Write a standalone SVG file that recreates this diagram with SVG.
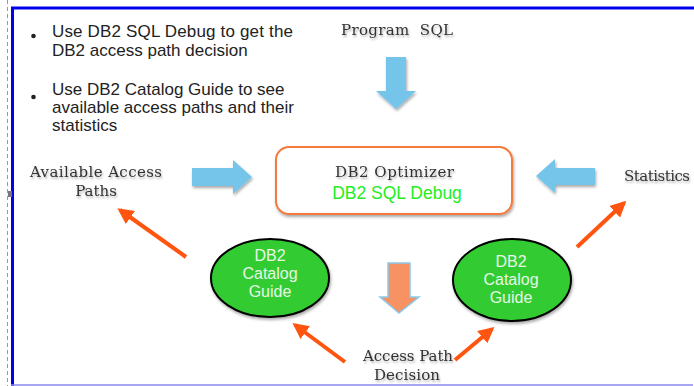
<svg xmlns="http://www.w3.org/2000/svg" width="694" height="386" viewBox="0 0 694 386">
<style>
.serif{font-family:"DejaVu Serif","Liberation Serif",serif;font-size:15px;fill:#333;text-anchor:middle}
.sans{font-family:"Liberation Sans",Arial,sans-serif}
.bul{font-size:17px;fill:#222}
.ell{fill:#33CC33;stroke:#000;stroke-width:2}
.etx{font-family:"Liberation Sans",Arial,sans-serif;font-size:16px;fill:#E6F7E6;text-anchor:middle}
.blue{fill:#74C4EA}
.oarr{stroke:#FF5510;stroke-width:4;fill:none;marker-end:url(#oh)}
</style>
<defs>
<filter id="sh" x="-20%" y="-20%" width="150%" height="150%">
<feGaussianBlur in="SourceAlpha" stdDeviation="1.5"/>
<feOffset dx="1" dy="2" result="b"/>
<feComponentTransfer><feFuncA type="linear" slope="0.35"/></feComponentTransfer>
<feMerge><feMergeNode/><feMergeNode in="SourceGraphic"/></feMerge>
</filter>
<filter id="tsh" x="-10%" y="-30%" width="120%" height="160%">
<feGaussianBlur in="SourceAlpha" stdDeviation="0.8"/>
<feOffset dx="1" dy="1.5"/>
<feComponentTransfer><feFuncA type="linear" slope="0.3"/></feComponentTransfer>
<feMerge><feMergeNode/><feMergeNode in="SourceGraphic"/></feMerge>
</filter>
<marker id="oh" viewBox="0 0 10 10" refX="8" refY="5" markerWidth="4" markerHeight="4" orient="auto" markerUnits="strokeWidth">
<path d="M0,0 L10,5 L0,10 z" fill="#FF5510"/>
</marker>
</defs>
<rect width="694" height="386" fill="#fff"/>
<!-- frame -->
<line x1="7.5" y1="0" x2="7.5" y2="386" stroke="#999" stroke-width="1" stroke-dasharray="4,3"/>
<line x1="12.5" y1="8" x2="12.5" y2="386" stroke="#0000EE" stroke-width="3"/>
<line x1="11" y1="8" x2="694" y2="8" stroke="#0000EE" stroke-width="3"/>
<line x1="11" y1="385" x2="693" y2="385" stroke="#8888EE" stroke-width="1.5"/>
<rect x="8" y="191" width="4" height="6" fill="#777"/>

<g id="bullets">
<circle cx="33.5" cy="36" r="2.3" fill="#222"/>
<text class="sans bul" x="52" y="37" textLength="241">Use DB2 SQL Debug to get the</text>
<text class="sans bul" x="52" y="56">DB2 access path decision</text>
<circle cx="33.5" cy="97" r="2.3" fill="#222"/>
<text class="sans bul" x="52" y="95">Use DB2 Catalog Guide to see</text>
<text class="sans bul" x="52" y="113">available access paths and their</text>
<text class="sans bul" x="52" y="131">statistics</text>
</g>

<g id="program-sql">
<text class="serif" x="397" y="35" filter="url(#tsh)" xml:space="preserve" textLength="112">Program  SQL</text>
</g>

<g id="optimizer">
<rect x="276" y="147" width="236" height="67" rx="13" fill="#fff" stroke="#F47A3C" stroke-width="2" filter="url(#sh)"/>
<text class="serif" x="394.5" y="177" filter="url(#tsh)" textLength="119">DB2 Optimizer</text>
<text class="sans" x="397" y="199" font-size="17.5" fill="#22EE22" text-anchor="middle">DB2 SQL Debug</text>
</g>

<g id="available-access-paths">
<text class="serif" x="96" y="177" filter="url(#tsh)" textLength="132">Available Access</text>
<text class="serif" x="96" y="196" filter="url(#tsh)">Paths</text>
</g>

<g id="statistics">
<text class="serif" x="657" y="181" filter="url(#tsh)" textLength="66">Statistics</text>
</g>

<g id="access-path-decision">
<text class="serif" x="408" y="361" filter="url(#tsh)" textLength="90">Access Path</text>
<text class="serif" x="407" y="380" filter="url(#tsh)" textLength="66">Decision</text>
</g>

<g id="catalog-left">
<ellipse class="ell" cx="270" cy="278" rx="59" ry="39" filter="url(#sh)"/>
<text class="etx" x="270" y="261">DB2</text>
<text class="etx" x="270" y="279">Catalog</text>
<text class="etx" x="270" y="297">Guide</text>
</g>

<g id="catalog-right">
<ellipse class="ell" cx="512" cy="280" rx="59" ry="41" filter="url(#sh)"/>
<text class="etx" x="511" y="267">DB2</text>
<text class="etx" x="511" y="285">Catalog</text>
<text class="etx" x="511" y="303">Guide</text>
</g>

<g id="connectors">
<path class="blue" filter="url(#sh)" d="M386,57 H406 V91 H416 L396,109 L376,91 H386 Z"/>
<path class="blue" filter="url(#sh)" d="M192,168 H233 V160 L252,177 L233,194 V186 H192 Z"/>
<path class="blue" filter="url(#sh)" d="M595,168 H555 V159 L536,176 L555,193 V185 H595 Z"/>
<path d="M388,263 H410 V297 H419 L399,313 L380,297 H388 Z" fill="#F79262" stroke="#8CC8EA" stroke-width="1.5"/>
<line class="oarr" x1="186" y1="257" x2="120" y2="210"/>
<line class="oarr" x1="345" y1="362" x2="295" y2="325"/>
<line class="oarr" x1="455" y1="360" x2="492" y2="329"/>
<line class="oarr" x1="577" y1="247" x2="624" y2="203"/>
</g>
</svg>
